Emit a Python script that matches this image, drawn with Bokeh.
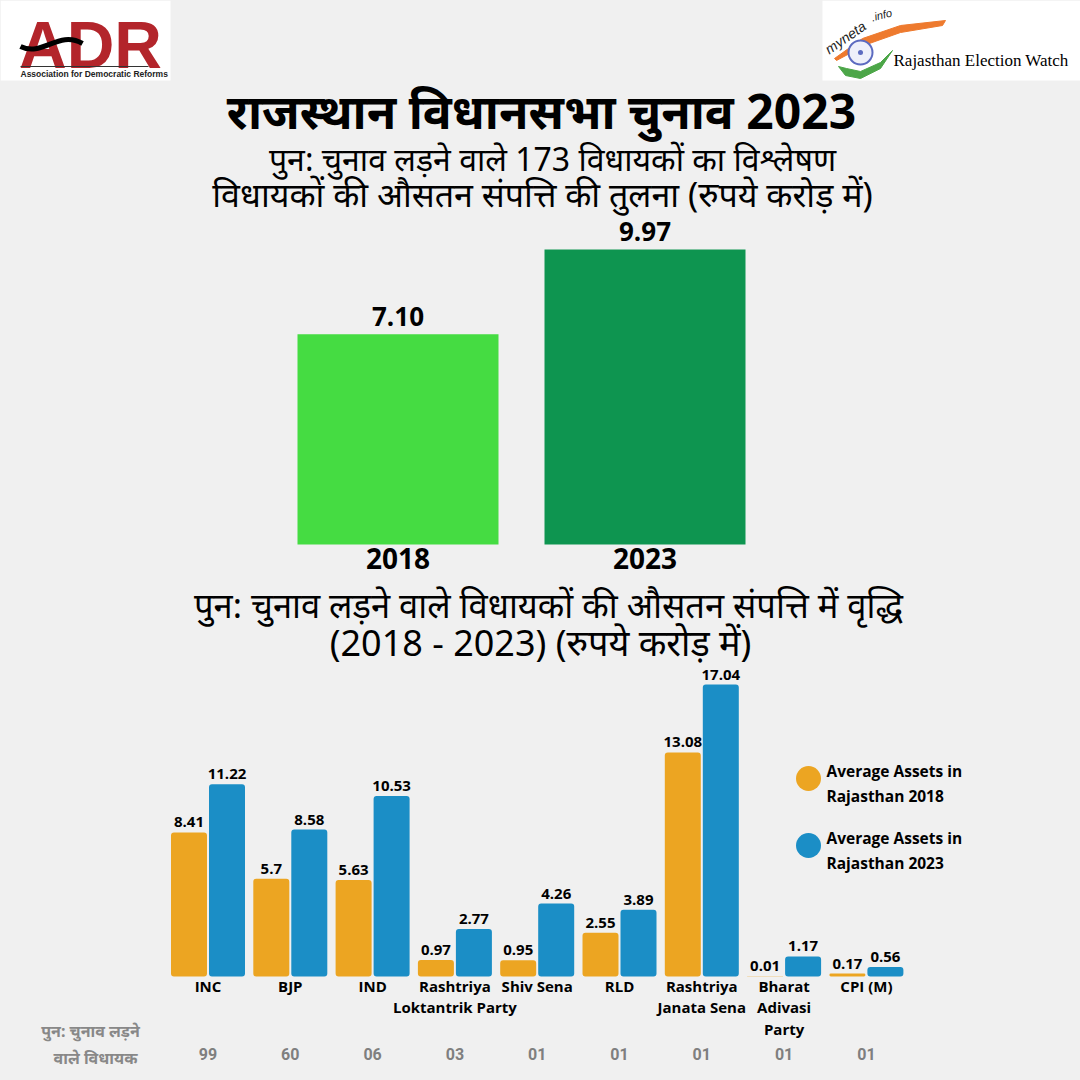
from bokeh.plotting import figure
from bokeh.layouts import column
from bokeh.models import Range1d, ColumnDataSource
from bokeh.core.properties import value
from bokeh.transform import dodge
from bokeh.embed import file_html
from bokeh.resources import INLINE

# ---------------- data ----------------
years = ["2018", "2023"]
avg_assets = [7.10, 9.97]
avg_labels = ["7.10", "9.97"]

parties = ["INC", "BJP", "IND", "Rashtriya\nLoktantrik Party", "Shiv Sena", "RLD",
           "Rashtriya\nJanata Sena", "Bharat\nAdivasi\nParty", "CPI (M)"]
assets_2018 = [8.41, 5.7, 5.63, 0.97, 0.95, 2.55, 13.08, 0.01, 0.17]
assets_2023 = [11.22, 8.58, 10.53, 2.77, 4.26, 3.89, 17.04, 1.17, 0.56]
labels_2018 = ["8.41", "5.7", "5.63", "0.97", "0.95", "2.55", "13.08", "0.01", "0.17"]
labels_2023 = ["11.22", "8.58", "10.53", "2.77", "4.26", "3.89", "17.04", "1.17", "0.56"]
recontesting_mlas = ["99", "60", "06", "03", "01", "01", "01", "01", "01"]

title = "राजस्थान विधानसभा चुनाव 2023"
subtitle1 = "पुन: चुनाव लड़ने वाले 173 विधायकों का विश्लेषण"
subtitle2 = "विधायकों की औसतन संपत्ति की तुलना (रुपये करोड़ में)"
mid_title1 = "पुन: चुनाव लड़ने वाले विधायकों की औसतन संपत्ति में वृद्धि"
mid_title2 = "(2018 - 2023) (रुपये करोड़ में)"
footer_label1 = "पुन: चुनाव लड़ने"
footer_label2 = "वाले विधायक"
legend_labels = ["Average Assets in\nRajasthan 2018", "Average Assets in\n Rajasthan 2023"]

# ---------------- styles ----------------
BG = "#f0f0f0"
W = 1080
C_2018_TOP = "#45DC42"
C_2023_TOP = "#0E9550"
C_ORANGE = "#ECA522"
C_BLUE = "#1B8EC6"
DEV_FONT = value("Noto Sans")
BOLD_FONT = value("Open Sans")
PX = dict(x_range_name="px", y_range_name="px")


def make_fig(h, xr, yr, page_top):
    p = figure(width=W, height=h, x_range=xr, y_range=yr, output_backend="svg",
               toolbar_location=None, min_border=0, x_axis_location=None,
               y_axis_location=None, background_fill_color=BG, border_fill_color=BG,
               outline_line_color=None)
    # page-pixel ranges for titles / logos / legend
    p.extra_x_ranges = {"px": Range1d(0, W)}
    p.extra_y_ranges = {"px": Range1d(page_top + h, page_top)}
    p.grid.visible = False
    return p


def ptext(p, x, y, t, size, font=DEV_FONT, style="normal", color="black", align="center",
          baseline="middle", **kw):
    p.text(x=[x], y=[y], text=[t], text_font=font, text_font_style=style, text_font_size=size,
           text_color=color, text_align=align, text_baseline=baseline, **PX, **kw)


# ================= upper figure: header + 2018/2023 chart =================
H1 = 578
BASE1 = 544            # page px of baseline
PX_TOP = 29.6          # px per crore
UNIT_TOP = 247.0       # px per category
X0_TOP = 397.5         # px of first category centre
f1 = make_fig(H1, Range1d(-X0_TOP / UNIT_TOP, (W - X0_TOP) / UNIT_TOP),
              Range1d(-(H1 - BASE1) / PX_TOP, BASE1 / PX_TOP), 0)

# ADR logo
f1.quad(left=[0], right=[170], top=[0], bottom=[80], fill_color="white", line_color=None, **PX)
ptext(f1, 90, 44, "ADR", "66px", font=value("Liberation Sans"), style="bold", color="#B3252B")
f1.bezier(x0=[20], y0=[46], x1=[82], y1=[43], cx0=[42], cy0=[57], cx1=[58], cy1=[29],
          line_color="black", line_width=5, **PX)
f1.segment(x0=[20], y0=[66], x1=[148], y1=[66], line_color="#333333", line_width=1.2, **PX)
ptext(f1, 20, 73, "Association for Democratic Reforms", "8.5px", font=value("Liberation Sans"),
      style="bold", color="#222222", align="left")

# myneta logo
f1.quad(left=[822], right=[W], top=[0], bottom=[80], fill_color="white", line_color=None, **PX)
f1.patch(x=[834, 862, 900, 945, 942, 900, 866, 836],
         y=[58, 38, 25, 20, 25, 32, 44, 60], fill_color="#EE7A2E", line_color="#EE7A2E", **PX)
f1.patch(x=[838, 845, 860, 880, 892, 880, 860, 846],
         y=[66, 75, 78, 68, 50, 62, 71, 68], fill_color="#4CA648", line_color="#4CA648", **PX)
f1.scatter(x=[860], y=[52], size=24, marker="circle", fill_color="#EEF0FA", line_color="#5C6BC0",
           line_width=2, **PX)
f1.scatter(x=[860], y=[52], size=5, marker="circle", fill_color="#5C6BC0", line_color=None, **PX)
ptext(f1, 826, 50, "myneta", "14px", font=value("Liberation Sans"), style="italic",
      color="#222222", align="left", angle=0.6)
ptext(f1, 871, 17, ".info", "11px", font=value("Liberation Sans"), style="italic",
      color="#222222", align="left", angle=0.25)
ptext(f1, 893, 60, "Rajasthan Election Watch", "17px", font=value("Liberation Serif"), align="left")

# titles
ptext(f1, 541, 110, title, "48px", style="bold")
ptext(f1, 552, 158, subtitle1, "32px")
ptext(f1, 542, 193, subtitle2, "34px")

# bars
top_src = ColumnDataSource(dict(x=list(range(len(years))), v=avg_assets, lab=avg_labels, yr=years,
                                c=[C_2018_TOP, C_2023_TOP]))
f1.vbar(x="x", top="v", bottom=0, width=201 / UNIT_TOP, fill_color="c", line_color=None, source=top_src)
f1.text(x="x", y="v", text="lab", y_offset=-8, text_font=BOLD_FONT, text_font_style="bold",
        text_font_size="26px", text_color="black", text_align="center", text_baseline="bottom",
        source=top_src)
f1.text(x="x", y=0, text="yr", y_offset=14, text_font=BOLD_FONT, text_font_style="bold",
        text_font_size="28px", text_color="black", text_align="center", text_baseline="middle",
        source=top_src)

# ================= lower figure: subtitle + grouped chart =================
TOP2 = H1
H2 = W - H1
BASE2 = 976
PX_BOT = 17.13
UNIT_BOT = 82.3
X0_BOT = 207.5
f2 = make_fig(H2, Range1d(-X0_BOT / UNIT_BOT, (W - X0_BOT) / UNIT_BOT),
              Range1d(-(W - BASE2) / PX_BOT, (BASE2 - TOP2) / PX_BOT), TOP2)

ptext(f2, 548, 604, mid_title1, "34.5px")
ptext(f2, 540, 642, mid_title2, "36px")

bot_src = ColumnDataSource(dict(x=list(range(len(parties))), p=parties, a=assets_2018, b=assets_2023,
                                la=labels_2018, lb=labels_2023, n=recontesting_mlas))
bw = 36 / UNIT_BOT
dx = 19 / UNIT_BOT
f2.vbar(x=dodge("x", -dx), top="a", bottom=0, width=bw, fill_color=C_ORANGE, line_color=None,
        border_radius=3, source=bot_src)
f2.vbar(x=dodge("x", dx), top="b", bottom=0, width=bw, fill_color=C_BLUE, line_color=None,
        border_radius=3, source=bot_src)
for xcol, ycol, lcol in ((-dx, "a", "la"), (dx, "b", "lb")):
    f2.text(x=dodge("x", xcol), y=ycol, text=lcol, y_offset=-5, text_font=BOLD_FONT,
            text_font_style="bold", text_font_size="15px", text_color="black", text_align="center",
            text_baseline="bottom", source=bot_src)
f2.text(x="x", y=0, text="p", y_offset=-1, text_font=BOLD_FONT, text_font_style="bold",
        text_font_size="15px", text_color="black", text_align="center", text_baseline="top",
        text_line_height=1.08, source=bot_src)
f2.text(x="x", y=0, text="n", y_offset=77, text_font=value("Roboto"), text_font_style="bold",
        text_font_size="16px", text_color="#7f7f7f", text_align="center", text_baseline="middle",
        source=bot_src)
ptext(f2, 90, 1030, footer_label1, "16px", style="bold", color="#888888")
ptext(f2, 95, 1057, footer_label2, "16px", style="bold", color="#888888")

# legend (circle markers + labels)
f2.scatter(x=[808, 808], y=[778, 845], size=25, marker="circle",
           fill_color=[C_ORANGE, C_BLUE], line_color=None, **PX)
for yy, lab in zip((783, 850), legend_labels):
    ptext(f2, 826, yy, lab, "15.5px", font=BOLD_FONT, style="bold", align="left",
          text_line_height=1.1)

page = column(f1, f2, spacing=0)
page.styles = {"background-color": BG}
open("out.html", "w").write(file_html(page, INLINE))
